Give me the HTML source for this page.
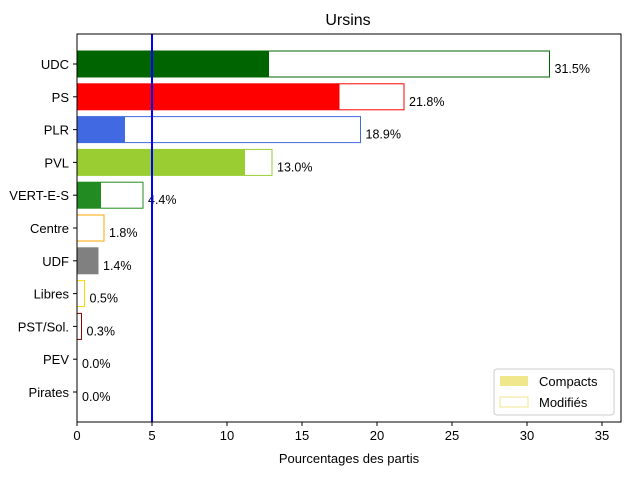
<!DOCTYPE html>
<html><head><meta charset="utf-8"><style>
body{margin:0;background:#fff;font-family:"Liberation Sans","DejaVu Sans",sans-serif}
</style></head><body>
<svg id="c" width="640" height="480" xmlns="http://www.w3.org/2000/svg"></svg>
<script>
const categories=["UDC","PS","PLR","PVL","VERT-E-S","Centre","UDF","Libres","PST/Sol.","PEV","Pirates"];
const compacts=[12.8,17.5,3.2,11.2,1.6,0,1.4,0,0,0,0];
const modifies=[31.5,21.8,18.9,13.0,4.4,1.8,1.4,0.5,0.3,0.0,0.0];
const colors=["#006400","#ff0000","#4169e1","#9acd32","#228b22","#ffa500","#808080","#ffd700","#8b0000","#ffd700","#ffd700"];
const xTicks=[0,5,10,15,20,25,30,35];
const threshold=5;
const NS="http://www.w3.org/2000/svg";
const svg=document.getElementById('c');
const L=77,R=621,T=34,B=422;
const xs=v=>L+v*15;
const ys=i=>64+i*32.8;
function el(t,a,p){const e=document.createElementNS(NS,t);for(const k in a)e.setAttribute(k,a[k]);(p||svg).appendChild(e);return e;}
const title=el('text',{x:348,y:25,'text-anchor':'middle','font-size':16});title.textContent="Ursins";


categories.forEach((c,i)=>{
  const y=ys(i);
  const m=el('rect',{x:xs(0),y:y-13,width:xs(modifies[i])-xs(0),height:26,fill:'#fff',stroke:colors[i],'stroke-width':1});
  
  
  if(compacts[i]>0){const b=el('rect',{x:xs(0),y:y-13,width:xs(compacts[i])-xs(0),height:26,fill:colors[i]});
  
  }
  const t=el('text',{x:xs(modifies[i])+5,y:y+9,'font-size':12.5});t.textContent=modifies[i].toFixed(1)+"%";
  
  
  el('line',{x1:L-4,x2:L,y1:y,y2:y,stroke:'#000'});
  const lb=el('text',{x:L-8,y:y+5,'text-anchor':'end','font-size':13});lb.textContent=c;
  
  
});
xTicks.forEach(v=>{
  el('line',{x1:xs(v),x2:xs(v),y1:B,y2:B+4,stroke:'#000'});
  const t=el('text',{x:xs(v),y:B+18,'text-anchor':'middle','font-size':13});t.textContent=v;
  
  
});
const vl=el('line',{x1:xs(threshold),x2:xs(threshold),y1:T,y2:B,stroke:'#0000ff','stroke-width':2});


const fr=el('rect',{x:L,y:T,width:R-L,height:B-T,fill:'none',stroke:'#000','stroke-width':1});


const xt=el('text',{x:349,y:463,'text-anchor':'middle','font-size':13});xt.textContent="Pourcentages des partis";


const lg=el('g',{});


el('rect',{x:494,y:369,width:120,height:46,rx:3,fill:'#fff',stroke:'#ccc'},lg);
el('rect',{x:500,y:376,width:28,height:10,fill:'#f0e68c'},lg);
el('rect',{x:500,y:397,width:28,height:10,fill:'#fff',stroke:'#f0e68c'},lg);
const t1=el('text',{x:539,y:386,'font-size':13},lg);t1.textContent="Compacts";
const t2=el('text',{x:539,y:407,'font-size':13},lg);t2.textContent="Modifiés";
</script>
</body></html>
